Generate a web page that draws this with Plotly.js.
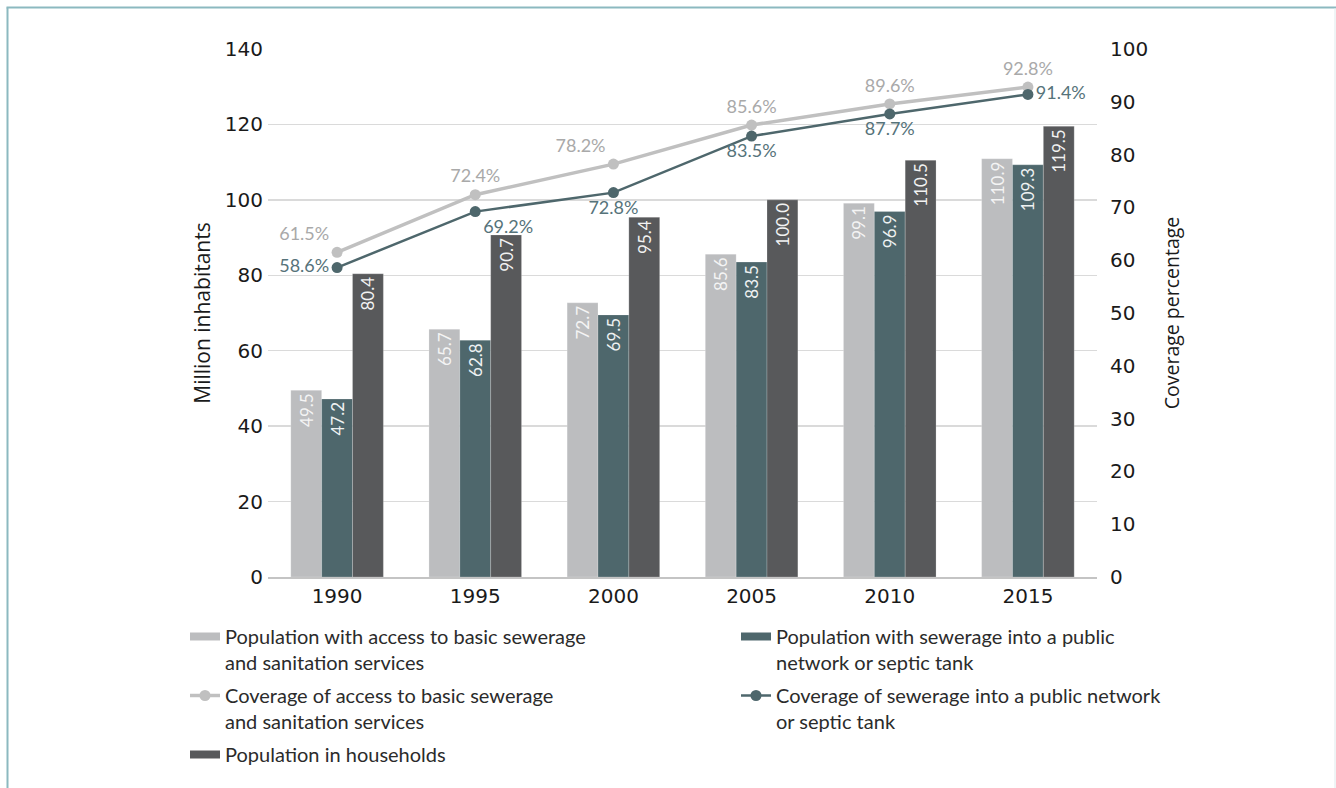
<!DOCTYPE html>
<html><head><meta charset="utf-8">
<script src="https://cdn.plot.ly/plotly-3.0.1.min.js"></script>
<style>html,body{margin:0;padding:0;background:#fff}#chart{width:1336px;height:788px}</style>
</head><body><div id="chart"></div>
<script>
// ---- data ----
const years = ['1990', '1995', '2000', '2005', '2010', '2015'];
const popBasic = [49.5, 65.7, 72.7, 85.6, 99.1, 110.9];
const popSewer = [47.2, 62.8, 69.5, 83.5, 96.9, 109.3];
const popHouse = [80.4, 90.7, 95.4, 100.0, 110.5, 119.5];
const covBasic = [61.5, 72.4, 78.2, 85.6, 89.6, 92.8];
const covSewer = [58.6, 69.2, 72.8, 83.5, 87.7, 91.4];
const nameBasic = 'Population with access to basic sewerage<br>and sanitation services';
const nameSewer = 'Population with sewerage into a public<br>network or septic tank';
const nameHouse = 'Population in households';
const nameCovBasic = 'Coverage of access to basic sewerage<br>and sanitation services';
const nameCovSewer = 'Coverage of sewerage into a public network<br>or septic tank';

// ---- styles ----
const cLight = '#bcbdbf', cTeal = '#4e676c', cDark = '#58595b';
const cLineGray = '#c0c0c0', cLabelGray = '#a9a9a9', cLabelTeal = '#56737a';

// plot area in pixels (for placing layout items)
const PL = 268, PR = 1097, PT = 49, PB = 577;
const px2x = p => (p - PL) / (PR - PL);
const px2y = p => (PB - p) / (PB - PT);

function barTrace(vals, name, color, txtColor) {
  return {
    type: 'bar', x: years, y: vals, name: name, showlegend: false,
    marker: {color: color, line: {width: 0.6, color: 'rgba(255,255,255,0.35)'}},
    text: vals.map(v => v.toFixed(1)), textposition: 'inside', insidetextanchor: 'end',
    textangle: -90, constraintext: 'none',
    insidetextfont: {family: 'Lato, Open Sans, sans-serif', size: 17, color: txtColor},
    hoverinfo: 'x+y'
  };
}
function legendBar(name, color, legend, rank, group) {
  return {type: 'scatter', mode: 'lines', x: [null], y: [null], name: name,
    line: {color: color, width: 8}, legend: legend, legendrank: rank, legendgroup: group,
    hoverinfo: 'skip'};
}

const data = [
  barTrace(popBasic, nameBasic, cLight, '#f4f4f4'),
  barTrace(popSewer, nameSewer, cTeal, '#eef2f2'),
  barTrace(popHouse, nameHouse, cDark, '#f2f2f2'),
  {
    type: 'scatter', mode: 'lines+markers+text', x: years, y: covBasic, yaxis: 'y2',
    name: nameCovBasic, legend: 'legend', legendrank: 2, legendgroup: 'g2',
    line: {color: cLineGray, width: 3.5}, marker: {color: cLineGray, size: 11},
    text: covBasic.map(v => v.toFixed(1) + '%'),
    textposition: ['top left', 'top center', 'top left', 'top center', 'top center', 'top center'],
    textfont: {family: 'Lato, Open Sans, sans-serif', size: 18, color: cLabelGray},
    cliponaxis: false
  },
  {
    type: 'scatter', mode: 'lines+markers+text', x: years, y: covSewer, yaxis: 'y2',
    name: nameCovSewer, legend: 'legend2', legendrank: 2, legendgroup: 'g5',
    line: {color: cTeal, width: 2.5}, marker: {color: cTeal, size: 11},
    text: covSewer.map(v => v.toFixed(1) + '%'),
    textposition: ['middle left', 'bottom right', 'bottom center', 'bottom center', 'bottom center', 'middle right'],
    textfont: {family: 'Lato, Open Sans, sans-serif', size: 18, color: cLabelTeal},
    cliponaxis: false
  },
  legendBar(nameBasic, cLight, 'legend', 1, 'g1'),
  legendBar(nameHouse, cDark, 'legend', 3, 'g3'),
  legendBar(nameSewer, cTeal, 'legend2', 1, 'g4')
];

const tickFont = {family: 'DejaVu Sans, sans-serif', size: 20, color: '#1a1a1a'};
const legFont = {family: 'Lato, sans-serif', size: 20, color: '#2b2b2b'};

const layout = {
  width: 1336, height: 788,
  margin: {l: PL, r: 1336 - PR, t: PT, b: 788 - PB},
  paper_bgcolor: '#ffffff', plot_bgcolor: '#ffffff',
  barmode: 'group', bargap: 0.33, bargroupgap: 0,
  xaxis: {
    type: 'category', tickfont: tickFont, showgrid: false,
    showline: true, linecolor: '#c4c4c4', linewidth: 1.5, ticks: '', ticklabelstandoff: 0,
    range: [-0.5, 5.5], fixedrange: true
  },
  yaxis: {
    range: [0, 140], dtick: 20, tickfont: tickFont, gridcolor: '#dadada', gridwidth: 1.5,
    zeroline: false, ticks: '', ticklabelstandoff: 4,
    title: {text: 'Million inhabitants', font: {family: 'Open Sans, sans-serif', size: 21, color: '#1a1a1a'}, standoff: 8}
  },
  yaxis2: {
    overlaying: 'y', side: 'right', range: [0, 100], dtick: 10, tickfont: tickFont,
    showgrid: false, zeroline: false, ticks: '', ticklabelstandoff: 12,
    title: {text: 'Coverage percentage', font: {family: 'Open Sans, sans-serif', size: 19.5, color: '#1a1a1a'}, standoff: 18}
  },
  legend: {
    x: px2x(185), y: px2y(617), xanchor: 'left', yanchor: 'top', valign: 'top',
    orientation: 'v', font: legFont, bgcolor: 'rgba(0,0,0,0)', tracegroupgap: 4, itemclick: false
  },
  legend2: {
    x: px2x(736), y: px2y(617), xanchor: 'left', yanchor: 'top', valign: 'top',
    orientation: 'v', font: legFont, bgcolor: 'rgba(0,0,0,0)', tracegroupgap: 4, itemclick: false
  },
  shapes: [
    {type: 'line', xref: 'paper', yref: 'paper', x0: px2x(7.5), x1: px2x(7.5), y0: px2y(7.5), y1: px2y(790),
      line: {color: '#8cb9c0', width: 2}},
    {type: 'line', xref: 'paper', yref: 'paper', x0: px2x(6.5), x1: px2x(1336), y0: px2y(7.5), y1: px2y(7.5),
      line: {color: '#8cb9c0', width: 2}},
    {type: 'line', xref: 'paper', yref: 'paper', x0: px2x(1335), x1: px2x(1335), y0: px2y(8), y1: px2y(790),
      line: {color: '#dfeaec', width: 1}}
  ],
  hovermode: false
};

Plotly.newPlot('chart', data, layout, {displayModeBar: false, staticPlot: true});
</script>
</body></html>
